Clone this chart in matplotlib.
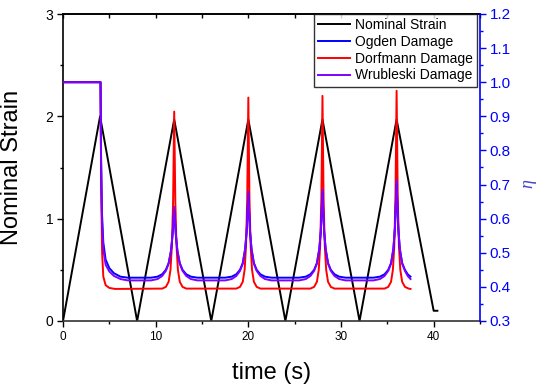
import matplotlib
matplotlib.use("Agg")
import matplotlib.pyplot as plt
from matplotlib.ticker import MultipleLocator
from matplotlib.lines import Line2D

plt.rcParams['font.family'] = ['Liberation Sans', 'DejaVu Sans']
plt.rcParams['mathtext.fontset'] = 'custom'
plt.rcParams['mathtext.it'] = 'Liberation Serif:italic'

# ---- data ----
t_strain = [0, 4, 8, 12, 16, 20, 24, 28, 32, 36, 40, 40.4]
strain = [0, 2.0, 0, 1.97, 0, 1.97, 0, 1.97, 0, 1.97, 0.1, 0.1]

t_dorf = [0.0, 4.05, 4.12, 4.22, 4.35, 4.60, 5.00, 5.60,
          10.70, 11.10, 11.40, 11.60, 11.75, 11.88, 12.00, 12.12, 12.25, 12.40, 12.60, 12.90, 13.30,
          18.70, 19.10, 19.40, 19.60, 19.75, 19.88, 20.00, 20.12, 20.25, 20.40, 20.60, 20.90, 21.30,
          26.70, 27.10, 27.40, 27.60, 27.75, 27.88, 28.00, 28.12, 28.25, 28.40, 28.60, 28.90, 29.30,
          34.70, 35.10, 35.40, 35.60, 35.75, 35.88, 36.00, 36.12, 36.25, 36.40, 36.60, 36.90, 37.30, 37.50]
eta_dorf = [1.0, 1.0, 0.70, 0.50, 0.43, 0.405, 0.397, 0.394,
            0.395, 0.400, 0.415, 0.45, 0.52, 0.65, 0.914, 0.65, 0.52, 0.45, 0.415, 0.400, 0.395,
            0.395, 0.400, 0.415, 0.45, 0.52, 0.66, 0.955, 0.66, 0.52, 0.45, 0.415, 0.400, 0.395,
            0.395, 0.400, 0.415, 0.45, 0.52, 0.66, 0.960, 0.66, 0.52, 0.45, 0.415, 0.400, 0.395,
            0.395, 0.400, 0.415, 0.45, 0.52, 0.67, 0.975, 0.67, 0.52, 0.45, 0.415, 0.400, 0.395, 0.394]

t_ogden = [0.0, 4.05, 4.10, 4.20, 4.35, 4.60, 5.00, 5.50, 6.20, 7.00,
           9.50, 10.20, 10.70, 11.10, 11.40, 11.65, 11.82, 12.00, 12.18, 12.35, 12.60, 12.90, 13.30, 13.80, 14.50,
           17.50, 18.20, 18.70, 19.10, 19.40, 19.65, 19.82, 20.00, 20.18, 20.35, 20.60, 20.90, 21.30, 21.80, 22.50,
           25.50, 26.20, 26.70, 27.10, 27.40, 27.65, 27.82, 28.00, 28.18, 28.35, 28.60, 28.90, 29.30, 29.80, 30.50,
           33.50, 34.20, 34.70, 35.10, 35.40, 35.65, 35.82, 36.00, 36.18, 36.35, 36.60, 36.90, 37.20, 37.50]
eta_ogden = [1.0, 1.0, 0.80, 0.62, 0.53, 0.48, 0.455, 0.440, 0.430, 0.427,
             0.427, 0.430, 0.437, 0.450, 0.470, 0.505, 0.550, 0.625, 0.550, 0.505, 0.470, 0.450, 0.437, 0.430, 0.427,
             0.427, 0.430, 0.437, 0.450, 0.470, 0.510, 0.560, 0.670, 0.560, 0.510, 0.470, 0.450, 0.437, 0.430, 0.427,
             0.427, 0.430, 0.437, 0.450, 0.470, 0.510, 0.560, 0.675, 0.560, 0.510, 0.470, 0.450, 0.437, 0.430, 0.427,
             0.427, 0.430, 0.437, 0.450, 0.470, 0.510, 0.570, 0.700, 0.570, 0.510, 0.470, 0.450, 0.437, 0.430]

t_wrub = [0.0, 4.05, 4.10, 4.20, 4.35, 4.60, 5.00, 5.50, 6.20, 7.00,
          9.50, 10.20, 10.70, 11.10, 11.40, 11.65, 11.82, 12.00, 12.18, 12.35, 12.60, 12.90, 13.30, 13.80, 14.50,
          17.50, 18.20, 18.70, 19.10, 19.40, 19.65, 19.82, 20.00, 20.18, 20.35, 20.60, 20.90, 21.30, 21.80, 22.50,
          25.50, 26.20, 26.70, 27.10, 27.40, 27.65, 27.82, 28.00, 28.18, 28.35, 28.60, 28.90, 29.30, 29.80, 30.50,
          33.50, 34.20, 34.70, 35.10, 35.40, 35.65, 35.82, 36.00, 36.18, 36.35, 36.60, 36.90, 37.20, 37.50]
eta_wrub = [1.0, 1.0, 0.78, 0.60, 0.51, 0.465, 0.445, 0.432, 0.423, 0.419,
            0.419, 0.423, 0.432, 0.447, 0.468, 0.505, 0.555, 0.635, 0.555, 0.505, 0.468, 0.447, 0.432, 0.423, 0.419,
            0.419, 0.423, 0.432, 0.447, 0.468, 0.510, 0.565, 0.680, 0.565, 0.510, 0.468, 0.447, 0.432, 0.423, 0.419,
            0.419, 0.423, 0.432, 0.447, 0.468, 0.510, 0.565, 0.685, 0.565, 0.510, 0.468, 0.447, 0.432, 0.423, 0.419,
            0.419, 0.423, 0.432, 0.447, 0.468, 0.512, 0.575, 0.713, 0.575, 0.512, 0.468, 0.447, 0.432, 0.423]

labels = ['Nominal Strain', 'Ogden Damage', 'Dorfmann Damage', 'Wrubleski Damage']
colors = ['black', '#0000FF', '#FF0000', '#8000FF']

# ---- figure ----
fig = plt.figure(figsize=(5.5, 3.89), dpi=100)
ax = fig.add_axes([63/550, 68/389, 417/550, 307/389])
ax2 = ax.twinx()

lw = 1.4
ax.plot(t_strain, strain, color=colors[0], lw=lw)
ax2.plot(t_dorf, eta_dorf, color=colors[2], lw=lw, zorder=2)
ax2.plot(t_ogden, eta_ogden, color=colors[1], lw=lw, zorder=3)
ax2.plot(t_wrub, eta_wrub, color=colors[3], lw=lw, zorder=4)

ax.set_xlim(0, 45)
ax.set_ylim(0, 3)
ax2.set_ylim(0.3, 1.2)

ax.xaxis.set_major_locator(MultipleLocator(10))
ax.xaxis.set_minor_locator(MultipleLocator(5))
ax.yaxis.set_major_locator(MultipleLocator(1))
ax.yaxis.set_minor_locator(MultipleLocator(0.5))
ax2.yaxis.set_major_locator(MultipleLocator(0.1))
ax2.yaxis.set_minor_locator(MultipleLocator(0.05))

ax.tick_params(axis='x', which='major', direction='out', length=4, width=1, labelsize=8.5, pad=3)
ax.tick_params(axis='x', which='minor', direction='out', length=2.5, width=1)
ax.tick_params(axis='y', which='major', direction='out', length=4, width=1, labelsize=10, pad=3)
ax.tick_params(axis='y', which='minor', direction='out', length=2.5, width=1)
ax2.tick_params(axis='y', which='major', direction='out', length=4, width=1, labelsize=11,
                colors='#0000FF', pad=3)
ax2.tick_params(axis='y', which='minor', direction='out', length=2.5, width=1, colors='#0000FF')

top = ax.secondary_xaxis('top')
top.xaxis.set_major_locator(MultipleLocator(10))
top.xaxis.set_minor_locator(MultipleLocator(5))
top.tick_params(which='both', direction='in', labeltop=False, length=3, width=1)
top.spines['top'].set_linewidth(1.2)

ax2.set_yticklabels([f'{v:.1f}' for v in ax2.get_yticks()])

for s in ['left', 'bottom', 'top']:
    ax.spines[s].set_linewidth(1.2)
ax.spines['bottom'].set_color('#333333')
ax.spines['right'].set_visible(False)
for s in ['left', 'bottom', 'top']:
    ax2.spines[s].set_visible(False)
ax2.spines['right'].set_color('#0000FF')
ax2.spines['right'].set_linewidth(1.2)

ax.set_xlabel('time (s)', fontsize=17)
ax.xaxis.set_label_coords(0.5, -0.135)
ax.set_ylabel('Nominal Strain', fontsize=17)
ax.yaxis.set_label_coords(-0.095, 0.5)
ax2.set_ylabel(r'$\eta$', fontsize=13, color='#4444CC', rotation=90)
ax2.yaxis.set_label_coords(1.1, 0.445)

handles = [Line2D([], [], color=c, lw=lw) for c in colors]
leg = ax2.legend(handles, labels, loc='upper right', bbox_to_anchor=(0.994, 1.0),
                 borderaxespad=0, fontsize=10, frameon=True, fancybox=False,
                 handlelength=2.3, labelspacing=0.2, borderpad=0.3, handletextpad=0.4)
leg.get_frame().set_edgecolor('black')
leg.get_frame().set_linewidth(1.0)

fig.savefig('out.png', dpi=100)
